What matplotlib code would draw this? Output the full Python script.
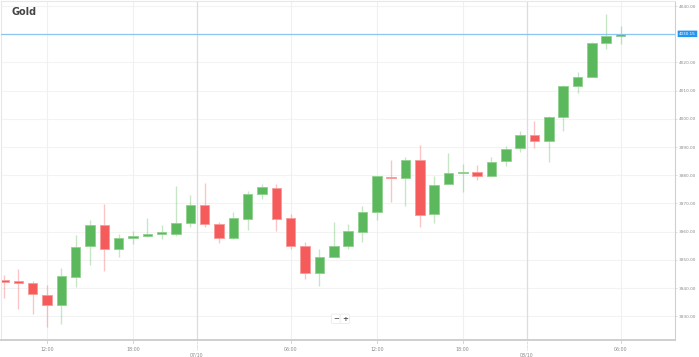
import matplotlib.pyplot as plt
import matplotlib.transforms as mtransforms
from matplotlib.patches import FancyBboxPatch

# hourly gold candles
opens = [3942.3, 3942.1, 3941.9, 3937.4, 3934.0, 3944.1, 3954.9, 3962.5, 3954.0, 3957.9,
         3958.4, 3959.3, 3959.3, 3963.2, 3969.3, 3962.6, 3957.9, 3964.6, 3973.5, 3975.6,
         3964.8, 3954.9, 3945.2, 3951.1, 3954.8, 3959.9, 3966.9, 3979.2, 3979.0, 3985.5,
         3966.4, 3977.0, 3980.7, 3981.1, 3979.9, 3985.0, 3989.6, 3994.3, 3992.3, 4000.8,
         4011.7, 4014.7, 4026.8, 4029.3]
closes = [3942.1, 3941.8, 3937.9, 3934.0, 3944.4, 3954.7, 3962.3, 3954.0, 3957.8, 3958.2,
          3959.3, 3960.0, 3963.2, 3969.4, 3962.6, 3957.9, 3964.8, 3973.5, 3975.8, 3964.6,
          3954.9, 3945.5, 3951.1, 3954.8, 3960.1, 3966.9, 3979.6, 3978.9, 3985.5, 3966.0,
          3976.7, 3980.7, 3981.0, 3979.9, 3984.6, 3989.4, 3994.3, 3992.3, 4000.8, 4011.7,
          4014.7, 4026.8, 4029.3, 4030.1]
highs = [3944.5, 3946.7, 3942.5, 3941.1, 3947.0, 3958.7, 3964.0, 3969.9, 3959.1, 3960.3,
         3964.8, 3962.3, 3976.2, 3972.9, 3977.3, 3963.4, 3966.9, 3974.6, 3977.0, 3977.0,
         3966.1, 3956.4, 3953.8, 3963.4, 3962.9, 3969.0, 3979.8, 3985.5, 3986.6, 3990.9,
         3979.6, 3987.8, 3984.0, 3983.5, 3986.6, 3990.5, 3995.8, 3999.4, 4001.0, 4012.1,
         4016.7, 4027.4, 4037.3, 4032.9]
lows = [3936.6, 3932.5, 3930.8, 3926.3, 3927.2, 3940.5, 3948.1, 3946.0, 3951.1, 3955.8,
        3958.1, 3957.3, 3958.5, 3961.7, 3961.7, 3956.0, 3957.3, 3960.7, 3971.7, 3960.1,
        3953.8, 3943.4, 3940.8, 3951.1, 3954.0, 3956.4, 3964.3, 3970.5, 3969.0, 3961.7,
        3963.1, 3977.0, 3974.0, 3978.4, 3979.9, 3983.2, 3988.2, 3989.6, 3984.6, 3995.8,
        4009.2, 4014.7, 4024.7, 4026.7]

hour_ticks = [3, 9, 20, 26, 32, 43]
hour_labels = ["12:00", "18:00", "06:00", "12:00", "18:00", "06:00"]
day_ticks = [13.45, 36.45]
day_labels = ["07/10", "08/10"]
price_ticks = [3930, 3940, 3950, 3960, 3970, 3980, 3990, 4000, 4010, 4020, 4040]
last_price = 4030.15

up_col, up_edge = "#5cb85c", "#8fd18f"
down_col, down_edge = "#f55b5b", "#f99a9a"

fig = plt.figure(figsize=(6.99, 3.57), dpi=100)
ax = fig.add_axes([1 / 699, 17 / 357, 674 / 699, 339 / 357])

ax.set_xlim(-0.21, 46.8)
ax.set_ylim(3921.6, 4041.8)

for p in price_ticks + [4030]:
    ax.axhline(p, color="#f3f3f3", lw=0.8, zorder=0)
for t in hour_ticks:
    ax.axvline(t, color="#f0f0f0", lw=0.8, zorder=0)
for t in day_ticks:
    ax.axvline(t, color="#dddddd", lw=0.9, zorder=0)

xs = list(range(len(opens)))
for i in xs:
    o, c, h, l = opens[i], closes[i], highs[i], lows[i]
    up = c >= o
    col = up_col if up else down_col
    ax.vlines(i, l, h, color=col, alpha=0.35, lw=1.0, zorder=1)
    bot = min(o, c)
    hgt = max(abs(c - o), 0.6)
    ax.bar(i, hgt, bottom=bot, width=0.66, color=col,
           edgecolor=up_edge if up else down_edge, lw=0.6, zorder=2)

ax.axhline(last_price, color="#8cc4f0", lw=0.9, zorder=3)

for side in ["left", "top"]:
    ax.spines[side].set_color("#e8e8e8")
    ax.spines[side].set_linewidth(0.8)
ax.spines["right"].set_color("#cfcfcf")
ax.spines["bottom"].set_color("#cfcfcf")
ax.spines["bottom"].set_linewidth(1.4)

ax.set_xticks([])
ax.yaxis.tick_right()
ax.set_yticks(price_ticks)
ax.set_yticklabels(["%.2f" % p for p in price_ticks])
ax.tick_params(axis="y", labelsize=3.1, labelcolor="#8a8a8a", color="#d0d0d0",
               length=1.5, width=0.5, pad=1.2)

trans = mtransforms.blended_transform_factory(ax.transData, ax.transAxes)
for t, lab in zip(hour_ticks, hour_labels):
    ax.plot([t, t], [0, -0.008], color="#cccccc", lw=0.6, transform=trans, clip_on=False)
    ax.text(t, -0.022, lab, transform=trans, ha="center", va="top",
            fontsize=3.4, color="#8a8a8a")
for t, lab in zip(day_ticks, day_labels):
    ax.plot([t, t], [0, -0.03], color="#bbbbbb", lw=0.5, ls=(0, (1, 1)),
            transform=trans, clip_on=False)
    ax.text(t, -0.038, lab, transform=trans, ha="center", va="top",
            fontsize=3.4, color="#8a8a8a")

# last price badge on the right axis
ytr = mtransforms.blended_transform_factory(ax.transAxes, ax.transData)
badge = FancyBboxPatch((1.004, last_price - 1.15), 0.029, 2.3,
                       boxstyle="round,pad=0,rounding_size=0.004",
                       transform=ytr, facecolor="#2196f3", edgecolor="none",
                       clip_on=False, zorder=5)
ax.add_patch(badge)
ax.text(1.0185, last_price, "%.2f" % last_price, transform=ytr, ha="center",
        va="center", fontsize=3.0, color="white", zorder=6, clip_on=False)

ax.text(10 / 674, 1 - 11 / 339, "Gold", transform=ax.transAxes, ha="left",
        va="center", fontsize=7, fontweight="bold", color="#444444")

# zoom buttons
ax.text(0.497, 0.0625, "\u2212", transform=ax.transAxes, ha="center", va="center",
        fontsize=5, color="#555555", fontweight="bold",
        bbox=dict(boxstyle="round,pad=0.25", fc="white", ec="#e6e6e6", lw=0.5))
ax.text(0.51, 0.0625, "+", transform=ax.transAxes, ha="center", va="center",
        fontsize=5, color="#555555", fontweight="bold",
        bbox=dict(boxstyle="round,pad=0.25", fc="white", ec="#e6e6e6", lw=0.5))

fig.savefig("out.png", dpi=100)
